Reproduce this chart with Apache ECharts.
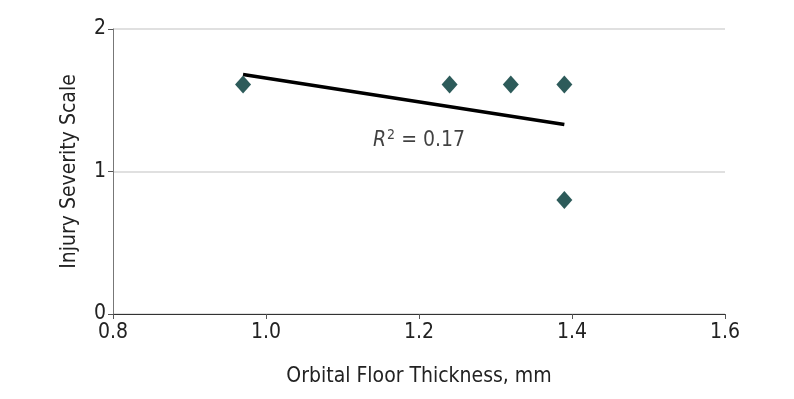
<!DOCTYPE html>
<html>
<head>
<meta charset="utf-8">
<script src="https://cdn.jsdelivr.net/npm/echarts@6/dist/echarts.min.js"></script>
<style>
  html, body { margin: 0; padding: 0; background: #fff; }
  #chart { width: 794px; height: 399px; }
</style>
</head>
<body>
<div id="chart"></div>
<script>
// Data
const thickness = [0.97, 1.24, 1.32, 1.39, 1.39];
const severity  = [1.61, 1.61, 1.61, 1.61, 0.80];
const fitX      = [0.97, 1.39];
const fitY      = [1.68, 1.33];
const r2Label   = { x: 1.20, y: 1.22, text: "0.17" };

const FONT = "DejaVu Sans Condensed";
const chart = echarts.init(document.getElementById("chart"));

chart.setOption({
  backgroundColor: "#fff",
  animation: false,
  textStyle: { fontFamily: FONT },
  grid: { left: 113, right: 69, top: 29, bottom: 85 },
  xAxis: {
    type: "value", min: 0.8, max: 1.6, interval: 0.2,
    name: "Orbital Floor Thickness, mm", nameLocation: "middle", nameGap: 52,
    nameTextStyle: { color: "#222", fontSize: 21, fontFamily: FONT },
    axisLine: { show: true, onZero: false, lineStyle: { color: "#333", width: 1 } },
    axisTick: { show: true, length: 5, lineStyle: { color: "#555" } },
    axisLabel: { color: "#222", fontSize: 21, margin: 8, formatter: v => v.toFixed(1) },
    splitLine: { show: false },
  },
  yAxis: {
    type: "value", min: 0, max: 2, interval: 1,
    name: "Injury Severity Scale", nameLocation: "middle", nameGap: 33,
    nameTextStyle: { color: "#222", fontSize: 21, fontFamily: FONT },
    axisLine: { show: true, lineStyle: { color: "#777", width: 1 } },
    axisTick: { show: true, length: 5, lineStyle: { color: "#555" } },
    axisLabel: { color: "#222", fontSize: 21, margin: 7 },
    splitLine: { show: true, lineStyle: { color: "#d6d6d6", width: 1.5 } },
  },
  series: [
    {
      type: "line", data: fitX.map((x, i) => [x, fitY[i]]),
      showSymbol: false, symbol: "none",
      lineStyle: { color: "#000", width: 3.5 }, z: 2,
    },
    {
      type: "scatter", data: thickness.map((x, i) => [x, severity[i]]),
      symbol: "diamond", symbolSize: [16, 18],
      itemStyle: { color: "#2d5b5a", opacity: 1 }, z: 3,
    },
    {
      type: "scatter", data: [[r2Label.x, r2Label.y]], symbolSize: 0, silent: true,
      label: {
        show: true, position: "inside",
        formatter: "{i|R}{s|2}{n| = " + r2Label.text + "}",
        rich: {
          i: { fontStyle: "italic", fontSize: 21, color: "#111", fontFamily: FONT },
          s: { fontSize: 14, color: "#111", verticalAlign: "top", padding: [0, 0, 10, 1], fontFamily: FONT },
          n: { fontSize: 21, color: "#111", fontFamily: FONT },
        },
      },
    },
  ],
});
</script>
</body>
</html>
